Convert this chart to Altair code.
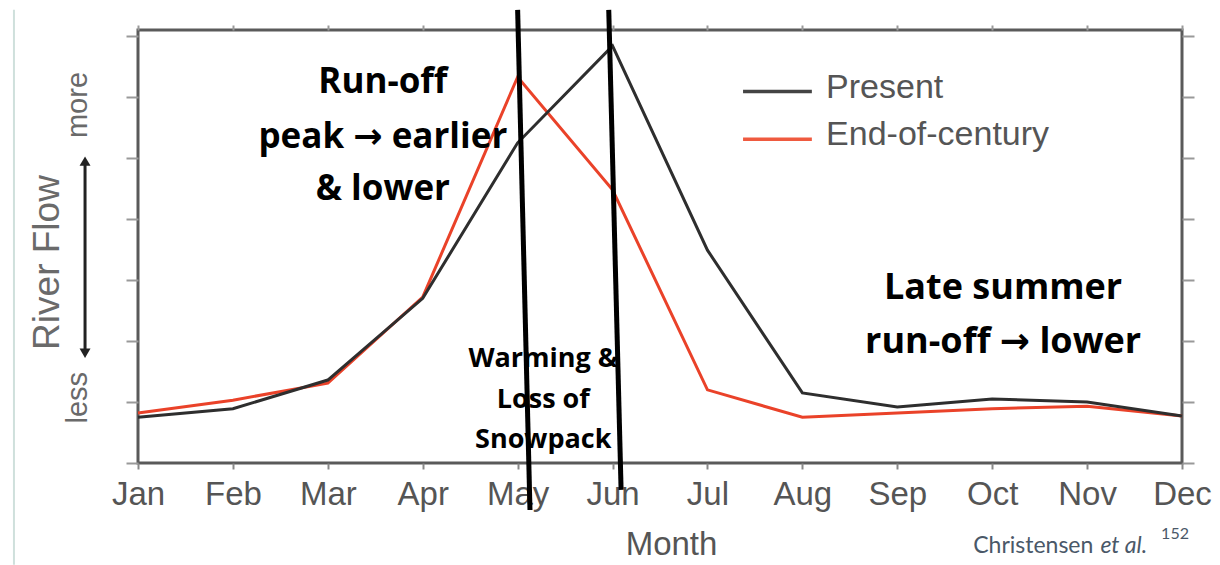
import json
import altair as alt
import pandas as pd

# ---------------- data ----------------
months = ["Jan", "Feb", "Mar", "Apr", "May", "Jun", "Jul", "Aug", "Sep", "Oct", "Nov", "Dec"]
present = [0.75, 0.89, 1.36, 2.70, 5.25, 6.84, 3.49, 1.15, 0.92, 1.05, 1.00, 0.77]
end_century = [0.82, 1.03, 1.31, 2.72, 6.33, 4.48, 1.20, 0.75, 0.82, 0.89, 0.93, 0.77]
series_names = ["Present", "End-of-century"]
runoff_lines = ["Run-off", "peak \u2192 earlier", "& lower"]
late_lines = ["Late summer", "run-off \u2192 lower"]
warming_lines = ["Warming &", "Loss of", "Snowpack"]
axis_hint = ["less", "more"]
credit = ["Christensen", "et al.", "152"]

# ---------------- layout ----------------
W, H = 1044, 433
xs = alt.Scale(domain=[0, 11], nice=False, zero=False)
ys = alt.Scale(domain=[0, 7.1], nice=False, zero=False)
GREY = "#555555"
LBL_FONT = "Liberation Sans"
ANN_FONT = "Open Sans, DejaVu Sans"
label_expr = json.dumps(months) + "[datum.value]"

df_p = pd.DataFrame({"m": list(range(12)), "v": present})
df_e = pd.DataFrame({"m": list(range(12)), "v": end_century})

bottom_axis = alt.Axis(
    values=list(range(12)), labelExpr=label_expr, domain=False, grid=False,
    tickSize=6, tickWidth=2, tickColor="#888888",
    labelFont=LBL_FONT, labelFontSize=33, labelColor=GREY, labelPadding=9,
    labelFlush=False, labelOverlap=False, labelBound=False,
    title="Month", titleFont=LBL_FONT, titleFontSize=33, titleFontWeight="normal",
    titleColor=GREY, titleX=533, titleY=91, titleBaseline="alphabetic", titleAlign="center",
)
left_axis = alt.Axis(
    values=list(range(8)), labels=False, domain=False, grid=False,
    tickSize=12, tickWidth=2, tickColor="#999999",
    title="River Flow", titleFont=LBL_FONT, titleFontSize=37, titleFontWeight="normal",
    titleColor="#6a6a6a", titleAngle=270, titleX=-91, titleY=232,
    titleAlign="center", titleBaseline="middle",
)
top_axis = alt.Axis(orient="top", values=list(range(12)), labels=False, domain=False,
                    grid=False, tickSize=5, tickWidth=2, tickColor="#999999", title=None)
right_axis = alt.Axis(orient="right", values=list(range(8)), labels=False, domain=False,
                      grid=False, tickSize=12, tickWidth=2, tickColor="#999999", title=None)

red_line = alt.Chart(df_e).mark_line(color="#ea4229", strokeWidth=3).encode(
    x=alt.X("m:Q", scale=xs, axis=bottom_axis),
    y=alt.Y("v:Q", scale=ys, axis=left_axis),
)
black_line = alt.Chart(df_p).mark_line(color="#2e2e2e", strokeWidth=3).encode(
    x=alt.X("m:Q", scale=xs, axis=top_axis),
    y=alt.Y("v:Q", scale=ys, axis=right_axis),
)


def xq(field="x"):
    return alt.X(f"{field}:Q", scale=xs, axis=None)


def yq(field="y"):
    return alt.Y(f"{field}:Q", scale=ys, axis=None)


# legend (manual)
leg_df = pd.DataFrame({
    "name": series_names,
    "x": [6.375, 6.375], "x2": [7.10, 7.10],
    "y": [6.09, 5.31], "ty": [5.98, 5.21],
    "c": ["#444444", "#ef5a3f"],
})
leg_rules = alt.Chart(leg_df).mark_rule(strokeWidth=3.5).encode(
    x=xq(), x2="x2", y=yq(), color=alt.Color("c:N", scale=None))
leg_text = alt.Chart(leg_df).mark_text(
    align="left", baseline="alphabetic", font=LBL_FONT, fontSize=34, color=GREY
).encode(x=alt.value(7.25 * W / 11), y=yq("ty"), text="name:N")

# annotations
def text_block(lines, xc, ys_, size, weight="bold", font=ANN_FONT, color="black"):
    d = pd.DataFrame({"t": lines, "x": [xc] * len(lines), "y": ys_})
    return alt.Chart(d).mark_text(
        align="center", baseline="alphabetic", font=font, fontSize=size,
        fontWeight=weight, color=color,
    ).encode(x=xq(), y=yq(), text="t:N")


ann_runoff = text_block(runoff_lines, 2.58, [6.07, 5.16, 4.31], 35)
ann_late = text_block(late_lines, 9.115, [2.69, 1.80], 36)
ann_warm = text_block(warming_lines, 4.27, [1.57, 0.90, 0.25], 27)

# thick black marker lines
marker_df = pd.DataFrame({"x": [4.00, 4.96], "x2": [4.13, 5.09],
                          "y": [7.43, 7.43], "y2": [-0.77, -0.44]})
markers = alt.Chart(marker_df).mark_rule(strokeWidth=5, color="black").encode(
    x=xq(), x2="x2", y=yq(), y2="y2")

# y-axis less/more hint with double arrow
hint_df = pd.DataFrame({"t": axis_hint, "x": [-0.632, -0.632], "y": [1.07, 5.87]})
hint_text = alt.Chart(hint_df).mark_text(
    angle=270, align="center", baseline="middle", font=LBL_FONT, fontSize=29, color="#6a6a6a"
).encode(x=xq(), y=yq(), text="t:N")
arrow_df = pd.DataFrame({"x": [-0.558], "y": [4.93], "y2": [1.82]})
arrow_shaft = alt.Chart(arrow_df).mark_rule(strokeWidth=3, color="#222222").encode(
    x=xq(), y=yq(), y2="y2")
head_df = pd.DataFrame({"x": [-0.558, -0.558], "y": [4.95, 1.80],
                        "s": ["triangle-up", "triangle-down"]})
arrow_heads = alt.Chart(head_df).mark_point(filled=True, size=120, color="#222222", opacity=1).encode(
    x=xq(), y=yq(), shape=alt.Shape("s:N", scale=None))

# thin teal page rule on left
page_df = pd.DataFrame({"x": [-1.307], "y": [7.43], "y2": [-1.67]})
page_rule = alt.Chart(page_df).mark_rule(strokeWidth=2, color="#cfe0dc").encode(
    x=xq(), y=yq(), y2="y2")

# credit
cred_df = pd.DataFrame({"t": credit, "x": [8.80, 10.14, 10.78], "y": [-1.475, -1.475, -1.24]})
cred_main = alt.Chart(cred_df.iloc[[0]]).mark_text(
    align="left", baseline="alphabetic", font="Lato", fontSize=23, color="#4a5868"
).encode(x=xq(), y=yq(), text="t:N")
cred_ital = alt.Chart(cred_df.iloc[[1]]).mark_text(
    align="left", baseline="alphabetic", font="Lato", fontSize=23, fontStyle="italic", color="#4a5868"
).encode(x=xq(), y=yq(), text="t:N")
cred_sup = alt.Chart(cred_df.iloc[[2]]).mark_text(
    align="left", baseline="alphabetic", font="Lato", fontSize=16, color="#4a5868"
).encode(x=xq(), y=yq(), text="t:N")

chart = alt.layer(
    page_rule, red_line, black_line, leg_rules, leg_text,
    ann_runoff, ann_late, ann_warm, markers,
    hint_text, arrow_shaft, arrow_heads, cred_main, cred_ital, cred_sup,
).resolve_axis(x="independent", y="independent").properties(
    width=W, height=H,
    autosize=alt.AutoSizeParams(type="none"),
    padding={"left": 130, "top": 22, "right": 30, "bottom": 102},
    background="white",
).configure_view(stroke="#5a5a5a", strokeWidth=3)

chart.save("out.html", embed_options={"renderer": "svg", "actions": False})
